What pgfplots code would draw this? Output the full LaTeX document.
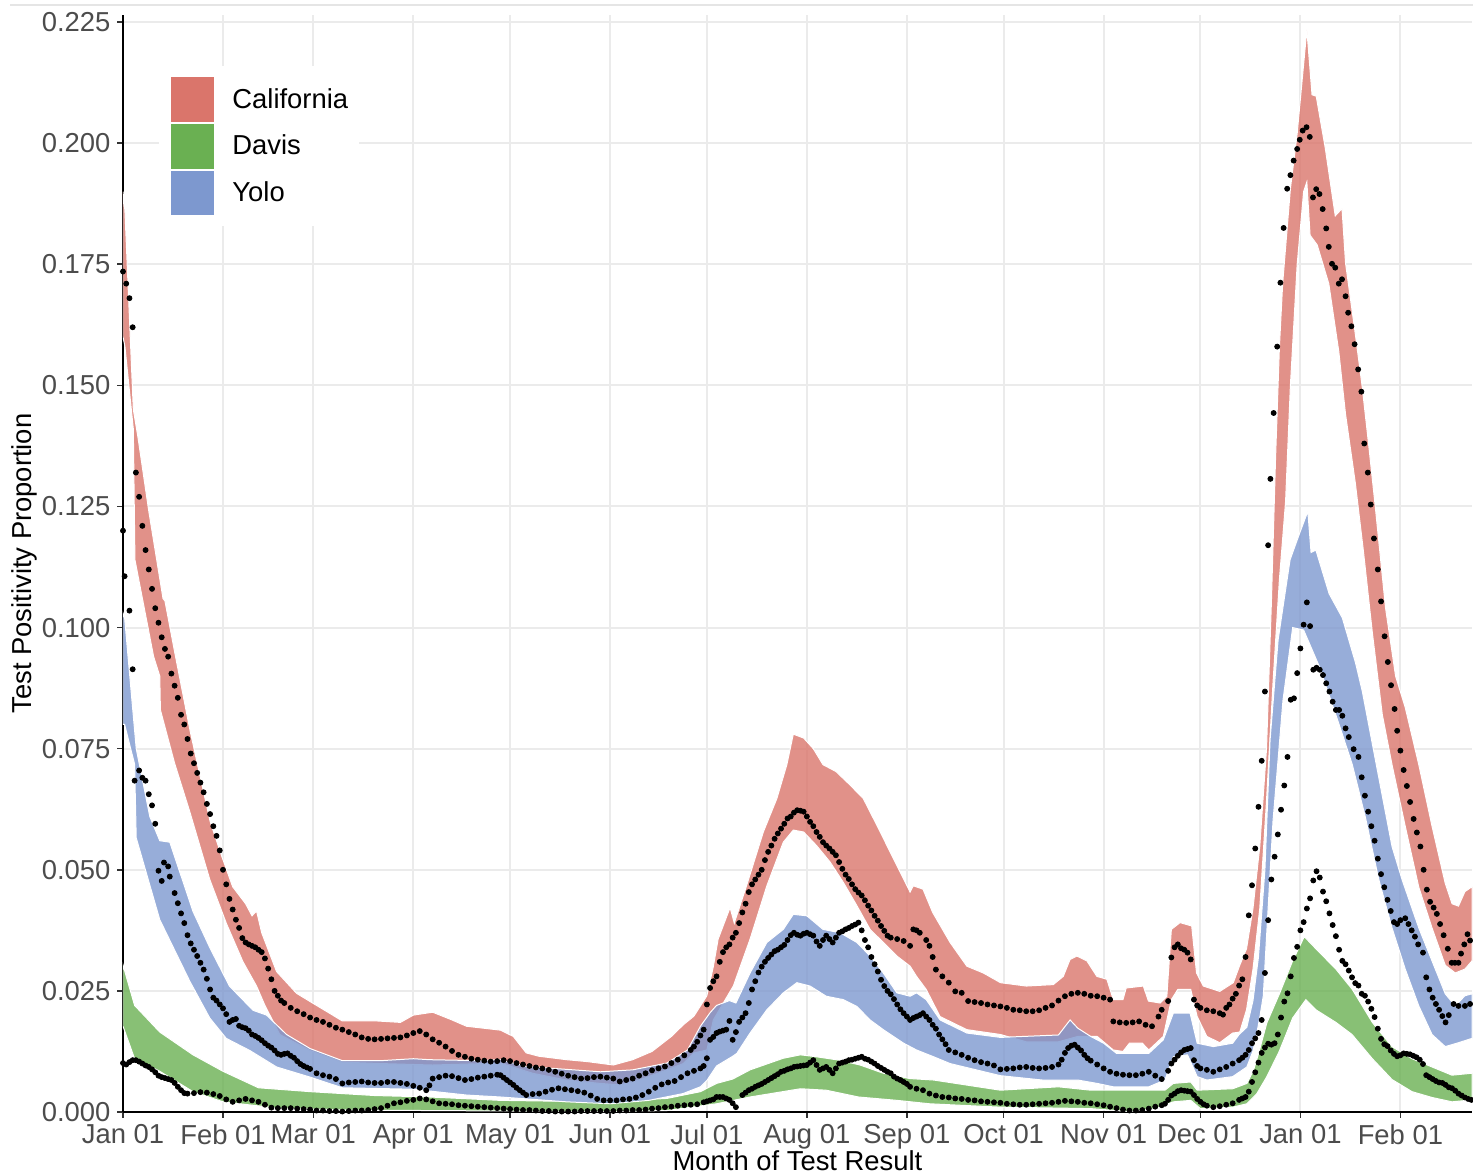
\documentclass[border=0pt]{standalone}
\usepackage{pgfplots}
\pgfplotsset{compat=1.18}
\usepgfplotslibrary{fillbetween}
\usepackage{fontspec}
\setmainfont{Liberation Sans}
\definecolor{calred}{RGB}{218,117,107}
\definecolor{davgreen}{RGB}{106,176,82}
\definecolor{yoloblue}{RGB}{125,152,207}
\definecolor{gridgray}{RGB}{235,235,235}
\newcommand{\fs}{\fontsize{13.7}{16}\selectfont}
\begin{document}
\begin{tikzpicture}
\begin{axis}[
 scale only axis, width=674.5pt, height=548.5pt,
 xmin=0, xmax=418.2, ymin=0, ymax=0.22646,
 axis lines*=left,
 axis line style={line width=1.1pt, black},
 xtick={0,31,59,90,120,151,181,212,243,273,304,334,365,396},
 xticklabels={Jan 01,Feb 01,Mar 01,Apr 01,May 01,Jun 01,Jul 01,Aug 01,Sep 01,Oct 01,Nov 01,Dec 01,Jan 01,Feb 01},
 ytick={0,0.025,0.05,0.075,0.1,0.125,0.15,0.175,0.2,0.225},
 yticklabels={0.000,0.025,0.050,0.075,0.100,0.125,0.150,0.175,0.200,0.225},
 tick align=outside, major tick length=2.75pt,
 tick style={line width=0.8pt, black!80},
 grid=major, major grid style={gridgray, line width=1pt},
 tick label style={font=\fs, text=black!70},
 label style={font=\fs},
 xlabel={Month of Test Result}, ylabel={Test Positivity Proportion},
 xlabel style={at={(axis description cs:0.5,-0.0347)}, anchor=north, inner sep=0pt},
 ylabel style={at={(axis description cs:-0.063,0.5)}, anchor=south, inner sep=0pt},
 legend cell align=left,
 legend style={at={(0.0267,0.9535)}, anchor=north west, draw=none, fill=white,
   inner xsep=5.5pt, inner ysep=5pt, row sep=0pt, font=\fs, nodes={inner sep=0pt},
   /tikz/every odd column/.append style={column sep=8.5pt}},
]
\addlegendimage{legend image code/.code={\fill[calred, draw=white, line width=0.5pt] (0pt,-11.4pt) rectangle (22pt,11.4pt);}}
\addlegendentry{California}
\addlegendimage{legend image code/.code={\fill[davgreen, draw=white, line width=0.5pt] (0pt,-11.4pt) rectangle (22pt,11.4pt);}}
\addlegendentry{Davis}
\addlegendimage{legend image code/.code={\fill[yoloblue, draw=white, line width=0.5pt] (0pt,-11.4pt) rectangle (22pt,11.4pt);}}
\addlegendentry{Yolo}

% California band
\addplot[name path=cu, draw=none, forget plot] coordinates {(0,0.190) (0.6,0.186) (3.2,0.145) (4.7,0.139) (8,0.124) (12.4,0.106) (13,0.1055) (16,0.095) (20.7,0.079) (24,0.069) (27,0.060) (30.5,0.053) (34,0.0465) (38,0.043) (40,0.0405) (41.4,0.0415) (43,0.037) (47.6,0.029) (53.8,0.0245) (60,0.022) (68,0.0188) (78.6,0.0188) (86,0.0185) (90,0.020) (96,0.0206) (102,0.019) (106.5,0.0177) (117,0.0169) (121,0.0156) (125,0.0122) (129,0.0115) (137.5,0.0108) (144,0.0104) (152,0.0097) (158,0.0108) (164,0.0125) (170,0.0156) (173.7,0.018) (177,0.0198) (181,0.024) (183,0.030) (184.5,0.0357) (188.2,0.0422) (189.5,0.039) (193.3,0.0467) (198.5,0.0578) (202.7,0.0647) (205.8,0.0717) (207.8,0.078) (211,0.0772) (214,0.075) (217,0.0717) (221,0.0703) (225.4,0.0675) (229.5,0.0647) (233.7,0.0592) (237.8,0.0537) (242,0.0481) (244,0.0454) (245,0.0467) (248,0.046) (251,0.0412) (256.4,0.035) (261.6,0.0301) (266.7,0.0287) (272,0.0267) (280,0.026) (288.4,0.0263) (291.5,0.028) (293.6,0.0315) (295.7,0.0322) (298.8,0.0312) (301.9,0.028) (305,0.0274) (307,0.0232) (310,0.0232) (311,0.0256) (316.3,0.026) (317.9,0.0229) (321.5,0.0225) (323.6,0.0239) (325,0.0377) (327.7,0.0391) (331.3,0.0384) (332.8,0.0287) (334.9,0.026) (340,0.0249) (344.2,0.0267) (346.2,0.0303) (348.3,0.0337) (350.3,0.042) (352.4,0.0548) (354.5,0.075) (356,0.105) (357.3,0.135) (358.5,0.158) (359.5,0.171) (361.9,0.1906) (364,0.202) (367,0.2234) (368.6,0.210) (369.9,0.2097) (372.7,0.199) (375.8,0.185) (377.9,0.1865) (379,0.1752) (382,0.1607) (384.1,0.150) (386.2,0.1375) (388.2,0.125) (391.4,0.104) (394.5,0.090) (397.5,0.0835) (401.7,0.0717) (405.8,0.059) (409.9,0.0472) (412,0.043) (414,0.0425) (416,0.0455) (418.2,0.0465)};
\addplot[name path=cl, draw=none, forget plot] coordinates {(0,0.160) (0.6,0.158) (3.2,0.141) (3.7,0.114) (9.5,0.094) (11.4,0.090) (11.6,0.083) (16,0.072) (20.7,0.062) (26.9,0.048) (32,0.039) (37.2,0.031) (41.4,0.026) (44,0.022) (48.6,0.016) (58,0.0127) (68,0.0103) (80,0.0100) (96,0.0097) (117,0.0101) (127,0.008) (137.5,0.0066) (148,0.0059) (154,0.0056) (160,0.0066) (168.6,0.0087) (173.7,0.010) (177,0.0122) (181,0.0128) (183,0.019) (189.2,0.026) (194.4,0.0357) (199.6,0.0467) (204.7,0.0557) (207.8,0.0582) (211,0.0578) (215,0.055) (219.2,0.0516) (223.3,0.0474) (227.5,0.0426) (231.6,0.0377) (235.7,0.035) (239.9,0.0322) (244,0.0301) (246,0.028) (249,0.0253) (253.3,0.0197) (261.6,0.017) (272,0.016) (280,0.0145) (290,0.0145) (296,0.0156) (302,0.0156) (307,0.0128) (310,0.0125) (312,0.0142) (316,0.0142) (318,0.0128) (322.5,0.0156) (325,0.0232) (327,0.0253) (331,0.0253) (333,0.0197) (336,0.0156) (340,0.0143) (344,0.0163) (346.2,0.0165) (348.3,0.0211) (350.3,0.0295) (352.4,0.042) (354.4,0.0632) (356.5,0.0885) (358.5,0.110) (360.4,0.126) (361.9,0.150) (364,0.175) (366,0.190) (367,0.192) (368,0.181) (370.2,0.179) (373.8,0.171) (376.9,0.157) (379,0.144) (382,0.130) (384.5,0.116) (387.3,0.099) (390.4,0.082) (393.4,0.0717) (397.5,0.059) (401.7,0.0464) (405.8,0.038) (409.9,0.0303) (413,0.0287) (416,0.0295) (418.2,0.0312)};
\addplot[fill=calred, fill opacity=0.8, draw=white, line width=0.5pt, forget plot] fill between[of=cu and cl];

% Davis band
\addplot[name path=du, draw=none, forget plot] coordinates {(0,0.0304) (1,0.028) (3.6,0.022) (11.4,0.0165) (21.7,0.0118) (31,0.0084) (42,0.005) (58,0.0042) (78,0.0034) (95,0.0031) (117,0.0024) (148,0.0021) (168.6,0.0028) (179,0.0042) (184,0.0059) (189,0.0068) (194.4,0.0087) (204.7,0.0111) (210,0.0118) (215,0.0114) (222,0.0107) (228.5,0.0097) (235.7,0.008) (244,0.0069) (251.3,0.0066) (272,0.0045) (290,0.0052) (300,0.0045) (323,0.0045) (325.6,0.0059) (331,0.0062) (333,0.0045) (344,0.0048) (348.4,0.0059) (350.4,0.0085) (352,0.012) (354.6,0.0184) (358.5,0.0244) (362.6,0.0312) (366.2,0.0362) (369.8,0.0337) (376,0.0295) (381.1,0.0253) (387.3,0.0185) (393.4,0.0135) (399.6,0.011) (405.8,0.0093) (412,0.0076) (418.2,0.008)};
\addplot[name path=dl, draw=none, forget plot] coordinates {(0,0.0177) (3.6,0.011) (11.4,0.0084) (21.7,0.0042) (31,0.0021) (48,0.0008) (70,0.0004) (95,0.0003) (150,0.0001) (168.6,0.0003) (184,0.0017) (194.4,0.0031) (210,0.0048) (218,0.0045) (228,0.0031) (240,0.0024) (250,0.0017) (272,0.001) (300,0.0007) (312,0.0001) (320,0.0007) (325.6,0.0021) (331,0.0024) (334,0.0007) (344,0.001) (348.4,0.0017) (351.5,0.0038) (354.6,0.0073) (358.5,0.0126) (362.6,0.0194) (366.7,0.0232) (369.8,0.0211) (376,0.0185) (381,0.016) (387.3,0.011) (393.4,0.0067) (399.6,0.0042) (405.8,0.003) (412,0.0021) (418.2,0.0025)};
\addplot[fill=davgreen, fill opacity=0.8, draw=white, line width=0.5pt, forget plot] fill between[of=du and dl];

% Yolo band
\addplot[name path=yu, draw=none, forget plot] coordinates {(0,0.103) (0.5,0.102) (4.1,0.075) (8.3,0.061) (11.4,0.056) (14.5,0.0557) (21.7,0.0414) (27,0.0338) (33,0.026) (40.3,0.021) (44.5,0.020) (50.7,0.016) (58,0.0131) (68,0.0106) (80,0.0106) (90,0.011) (95,0.0108) (110,0.0106) (117,0.0108) (125,0.0094) (148,0.0083) (158,0.0087) (168.6,0.0101) (175,0.0128) (179,0.0177) (182,0.0205) (184,0.022) (188,0.023) (190,0.0225) (194.4,0.0287) (199.6,0.035) (204.7,0.0377) (207.8,0.0408) (212,0.0405) (217,0.0377) (222.3,0.037) (227.5,0.035) (231.6,0.0322) (235.7,0.0287) (239.9,0.0246) (244,0.0239) (246,0.0246) (249,0.0232) (253.3,0.019) (261.6,0.0163) (272,0.0154) (290,0.0159) (293.6,0.019) (296,0.0173) (300,0.0156) (304,0.0142) (308,0.0121) (318,0.0121) (322.5,0.0149) (325.6,0.0204) (330.8,0.0204) (333,0.0142) (338,0.0135) (344,0.0142) (346,0.016) (348.4,0.0175) (350.3,0.023) (352,0.032) (354,0.050) (355.6,0.0768) (358.1,0.0975) (361.8,0.114) (364.5,0.119) (367.3,0.124) (368.3,0.1155) (369.8,0.116) (373.9,0.107) (378,0.102) (382.1,0.0927) (384.2,0.0868) (388.3,0.0725) (393.4,0.0548) (396.5,0.048) (401.7,0.038) (405.8,0.0312) (409.9,0.0244) (413,0.0219) (416,0.024) (418.2,0.0244)};
\addplot[name path=yl, draw=none, forget plot] coordinates {(0,0.080) (0.5,0.080) (3.6,0.0718) (4.1,0.0566) (11.4,0.0397) (20.7,0.027) (26.9,0.0194) (32,0.0152) (39.3,0.0127) (47.6,0.0093) (58,0.0072) (68,0.005) (90,0.0047) (106.5,0.0035) (117,0.0031) (137.5,0.0021) (151,0.0017) (163,0.0024) (173.6,0.0038) (179,0.0052) (181,0.0065) (184,0.0095) (189,0.0115) (190.3,0.0121) (194.4,0.0163) (199.6,0.0211) (204.7,0.0246) (208.9,0.0267) (213,0.026) (218,0.0239) (223.3,0.0232) (227.5,0.0218) (231.6,0.019) (235.7,0.017) (242,0.0142) (246,0.0128) (251.3,0.0114) (256.4,0.010) (272,0.0075) (285,0.0066) (296,0.0066) (302,0.0059) (307,0.0052) (318,0.0052) (323,0.0066) (325.6,0.0114) (330,0.0118) (333,0.0073) (336,0.0066) (344,0.0073) (348.4,0.0093) (350.3,0.0126) (351.5,0.0163) (352.4,0.0195) (353.5,0.024) (354.4,0.035) (356.5,0.060) (359.6,0.085) (362.6,0.100) (366,0.0995) (370.9,0.0919) (377,0.080) (381.1,0.0717) (385.2,0.0607) (389.3,0.048) (393.4,0.038) (397.5,0.0295) (401.7,0.0219) (405.8,0.016) (409.9,0.0135) (414,0.0143) (418.2,0.0152)};
\addplot[fill=yoloblue, fill opacity=0.8, draw=white, line width=0.5pt, forget plot] fill between[of=yu and yl];

% California observed
\addplot[only marks, mark=*, mark size=1.25pt, black, forget plot] coordinates {(0,0.1735) (1,0.171) (2,0.168) (3,0.162) (4,0.132) (5,0.127) (6,0.121) (7,0.116) (8,0.112) (9,0.108) (10,0.104) (11,0.101) (12,0.098) (13,0.0956) (14,0.094) (15,0.0905) (16,0.088) (17,0.0855) (18,0.082) (19,0.080) (20,0.077) (21,0.074) (22,0.072) (23,0.070) (24,0.068) (25,0.066) (26,0.0636) (27,0.0615) (28,0.059) (29,0.057) (30,0.054) (31,0.050) (32,0.047) (33,0.044) (34,0.0418) (35,0.0397) (36,0.038) (37,0.0359) (38,0.035) (39,0.0346) (40,0.0343) (41,0.034) (42,0.0335) (43,0.033) (44,0.0317) (45,0.0296) (46,0.0274) (47,0.025) (48,0.024) (49,0.023) (50,0.0225) (52,0.0215) (54,0.0208) (56,0.0202) (58,0.0195) (60,0.019) (62,0.0186) (64,0.018) (66,0.0174) (68,0.017) (70,0.0165) (72,0.016) (74,0.0154) (76,0.0151) (78,0.015) (80,0.0151) (82,0.0152) (84,0.0153) (86,0.0154) (88,0.0158) (90,0.0163) (92,0.0167) (94,0.016) (96,0.015) (98,0.0143) (100,0.0135) (102,0.0126) (104,0.0118) (106,0.0114) (108,0.011) (110,0.0108) (112,0.0106) (114,0.0104) (116,0.0105) (118,0.0107) (120,0.0105) (122,0.0101) (124,0.0098) (126,0.0095) (128,0.0092) (130,0.009) (132,0.0087) (134,0.0083) (136,0.0079) (138,0.0075) (140,0.0072) (142,0.0069) (144,0.007) (146,0.0072) (148,0.0073) (150,0.0071) (152,0.0069) (154,0.0063) (156,0.0066) (158,0.0069) (160,0.0075) (162,0.008) (164,0.0086) (166,0.009) (168,0.0094) (170,0.0101) (172,0.0108) (174,0.0117) (176,0.0128) (177,0.0135) (178,0.0145) (179,0.0158) (180,0.017) (181,0.0222) (182,0.0256) (183,0.027) (184,0.028) (185,0.031) (186,0.033) (187,0.034) (188,0.0346) (189,0.036) (190,0.037) (191,0.039) (192,0.0412) (193,0.043) (194,0.0454) (195,0.047) (196,0.048) (197,0.049) (198,0.050) (199,0.052) (200,0.0537) (201,0.055) (202,0.0564) (203,0.0575) (204,0.0585) (205,0.0595) (206,0.0606) (207,0.061) (208,0.0618) (209,0.0623) (210,0.0622) (211,0.062) (212,0.061) (213,0.0599) (214,0.059) (215,0.0578) (216,0.0568) (217,0.0557) (218,0.055) (219,0.0544) (220,0.0537) (221,0.053) (222,0.0516) (223,0.0502) (224,0.049) (225,0.0481) (226,0.047) (227,0.046) (228,0.0453) (229,0.0447) (230,0.0437) (231,0.0426) (232,0.0416) (233,0.0405) (234,0.0395) (235,0.0384) (236,0.0374) (237,0.0364) (238,0.036) (240,0.0357) (242,0.0353) (244,0.0343) (245,0.0377) (246,0.0375) (247,0.037) (249,0.0355) (250,0.0343) (251,0.032) (252,0.0294) (254,0.028) (256,0.0267) (258,0.0249) (260,0.0246) (262,0.0229) (264,0.0227) (266,0.0225) (268,0.0222) (270,0.022) (272,0.0218) (274,0.0215) (276,0.0211) (278,0.021) (280,0.0208) (282,0.0208) (284,0.021) (286,0.0215) (288,0.022) (290,0.023) (292,0.0239) (294,0.0244) (296,0.0246) (298,0.0244) (300,0.024) (302,0.0239) (304,0.0236) (306,0.0232) (307,0.0187) (309,0.0185) (311,0.0184) (313,0.0185) (315,0.0187) (317,0.018) (319,0.0177) (321,0.0197) (322,0.0211) (324,0.0229) (325,0.0319) (326,0.034) (327,0.0346) (328,0.0338) (329,0.0335) (330,0.0329) (331,0.0315) (332,0.0232) (333,0.022) (334,0.0215) (336,0.021) (338,0.0208) (340,0.0204) (341,0.0201) (342,0.0215) (343,0.0222) (344,0.0234) (345,0.0244) (346,0.0261) (347,0.0274) (348,0.032) (349,0.0406) (350,0.0468) (351,0.0544) (352,0.063) (353,0.0725) (354,0.0868) (355,0.117) (355.7,0.1307) (356.7,0.1443) (357.8,0.158) (358.8,0.1712) (359.8,0.1825) (360.9,0.1906) (361.9,0.1934) (362.9,0.1964) (364,0.1988) (364.8,0.2007) (365.7,0.2026) (366.9,0.2033) (367.9,0.2013) (368.9,0.1888) (369.9,0.1905) (370.9,0.1895) (371.9,0.1864) (373,0.1824) (373.8,0.1786) (374.8,0.1751) (375.8,0.1743) (376.9,0.171) (377.9,0.1719) (379,0.1684) (379.8,0.165) (380.8,0.1622) (381.8,0.1585) (382.9,0.1533) (383.9,0.1487) (384.8,0.138) (385.9,0.132) (386.8,0.1254) (387.8,0.1184) (389,0.112) (390,0.1054) (391.1,0.0982) (392.1,0.0929) (393.1,0.0881) (394.2,0.0832) (395,0.0787) (396,0.0746) (397,0.0706) (398,0.0673) (399,0.064) (400.1,0.0605) (401.1,0.0577) (402.2,0.0548) (403.2,0.050) (404.2,0.0459) (405.2,0.0434) (406.3,0.0422) (407.3,0.0409) (408.3,0.0388) (409.4,0.0365) (410.7,0.0337) (411.9,0.0308) (412.9,0.0308) (414,0.0308) (414.8,0.0327) (415.8,0.0346) (416.8,0.0367) (417.6,0.0354)};

% Davis observed
\addplot[only marks, mark=*, mark size=1.25pt, black, forget plot] coordinates {(0,0.0101) (1,0.0098) (2,0.0103) (3,0.0107) (4,0.0107) (5,0.0104) (6,0.010) (7,0.0096) (8,0.0093) (9,0.0088) (10,0.0082) (11,0.0075) (12,0.0072) (13,0.007) (14,0.0068) (15,0.0066) (16,0.006) (17,0.0052) (18,0.0045) (19,0.0039) (20,0.0038) (22,0.0039) (24,0.0041) (26,0.004) (28,0.0037) (30,0.0033) (32,0.0026) (34,0.0021) (36,0.0024) (38,0.0027) (40,0.0024) (42,0.0021) (44,0.0015) (46,0.0009) (48,0.0008) (50,0.0008) (52,0.0008) (54,0.0007) (56,0.0006) (58,0.0005) (60,0.0003) (62,0.0003) (64,0.0002) (66,0.0002) (68,0.0001) (70,0.0002) (72,0.0003) (74,0.0003) (76,0.0004) (78,0.0006) (80,0.0008) (82,0.0013) (84,0.0018) (86,0.002) (88,0.0023) (90,0.0025) (92,0.0028) (94,0.0026) (96,0.0022) (98,0.0018) (100,0.0017) (102,0.0016) (104,0.0014) (106,0.0013) (108,0.0012) (110,0.0011) (112,0.001) (114,0.0009) (116,0.0008) (118,0.0007) (120,0.0006) (122,0.0005) (124,0.0004) (126,0.0004) (128,0.0003) (130,0.0002) (132,0.0002) (134,0.0001) (136,0.0001) (138,0.0001) (140,0.0001) (142,0.0002) (144,0.0002) (146,0.0002) (148,0.0002) (150,0.0002) (152,0.0002) (154,0.0003) (156,0.0003) (158,0.0004) (160,0.0004) (162,0.0005) (164,0.0007) (166,0.0008) (168,0.001) (170,0.0011) (172,0.0013) (174,0.0014) (176,0.0015) (178,0.0016) (180,0.002) (181,0.0022) (182,0.0024) (183,0.0026) (184,0.0031) (185,0.0031) (186,0.0031) (187,0.0028) (188,0.0025) (189,0.0018) (190,0.001) (192,0.0035) (193,0.004) (194,0.0045) (195,0.0048) (196,0.0052) (197,0.0055) (198,0.0058) (199,0.0062) (200,0.0066) (201,0.007) (202,0.0074) (203,0.0078) (204,0.0083) (205,0.0085) (206,0.0088) (207,0.009) (208,0.0093) (209,0.0094) (210,0.0095) (211,0.0096) (212,0.0097) (213,0.0102) (214,0.0107) (215,0.0097) (216,0.0087) (217,0.009) (218,0.0093) (219,0.0087) (220,0.008) (221,0.009) (222,0.010) (223,0.0102) (224,0.0104) (225,0.0107) (226,0.0108) (227,0.011) (228,0.0112) (229,0.0114) (230,0.011) (231,0.0108) (232,0.0104) (233,0.010) (234,0.0095) (235,0.0091) (236,0.0087) (237,0.0083) (238,0.008) (239,0.0073) (240,0.0069) (241,0.0066) (242,0.0062) (243,0.0058) (244,0.0052) (246,0.0048) (248,0.0045) (250,0.0038) (252,0.0034) (254,0.0031) (256,0.003) (258,0.0028) (260,0.0027) (262,0.0025) (264,0.0024) (266,0.0022) (268,0.0021) (270,0.002) (272,0.0019) (274,0.0017) (276,0.0016) (278,0.0015) (280,0.0015) (282,0.0016) (284,0.0017) (286,0.0018) (288,0.0019) (290,0.0021) (292,0.0023) (294,0.0022) (296,0.0021) (298,0.0019) (300,0.0018) (302,0.0016) (304,0.0014) (306,0.0011) (308,0.0008) (310,0.0005) (312,0.0003) (314,0.0003) (316,0.0004) (318,0.0007) (320,0.0011) (322,0.0014) (323,0.0017) (324,0.0025) (325,0.0034) (326,0.0038) (327,0.0043) (328,0.0045) (329,0.0044) (330,0.0043) (331,0.0042) (332,0.0035) (333,0.0027) (334,0.0021) (335,0.0016) (336,0.0013) (338,0.001) (340,0.0012) (342,0.0015) (344,0.0018) (346,0.0025) (347,0.0028) (348,0.0031) (349,0.0042) (350,0.0062) (351,0.0082) (352,0.0102) (353,0.0122) (354,0.0133) (355,0.0141) (356,0.0139) (357,0.0142) (358,0.016) (359,0.0195) (360,0.0228) (361,0.0245) (362,0.028) (363,0.0318) (364,0.0341) (365,0.0375) (366,0.0392) (367,0.042) (368,0.0441) (369,0.0478) (370,0.0497) (371,0.0484) (372,0.0455) (373,0.0435) (374,0.041) (375,0.0386) (376,0.0363) (377,0.0335) (378,0.0312) (379,0.0305) (380,0.0292) (381,0.0278) (382,0.0266) (383,0.0261) (384,0.0244) (385,0.024) (386,0.0228) (387,0.0213) (388,0.0196) (389,0.0172) (390,0.0151) (391,0.014) (392,0.0136) (393,0.0127) (394,0.012) (395,0.0115) (396,0.0117) (397,0.0121) (398,0.012) (399,0.0119) (400,0.0116) (401,0.0113) (402,0.0108) (403,0.0099) (404,0.0076) (405,0.0072) (406,0.0068) (407,0.0064) (408,0.0061) (409,0.006) (410,0.0056) (411,0.0051) (412,0.0049) (413,0.0044) (414,0.0038) (415,0.0034) (416,0.003) (417,0.0027) (418,0.0025)};

% Yolo observed
\addplot[only marks, mark=*, mark size=1.25pt, black, forget plot] coordinates {(0,0.12) (0.5,0.1106) (2,0.1035) (3,0.0914) (3.6,0.0684) (5,0.0705) (6,0.069) (7,0.0684) (8,0.0656) (9,0.0633) (10,0.0595) (11,0.0498) (12,0.0477) (12.7,0.0515) (14,0.0507) (14.5,0.0486) (16,0.0452) (17,0.0431) (18,0.041) (19,0.039) (20,0.0365) (21,0.0348) (22,0.0335) (23,0.0322) (24,0.0308) (25,0.0294) (26,0.0275) (27,0.0253) (28,0.0236) (29,0.023) (30,0.0222) (31,0.0214) (32,0.0202) (33,0.0186) (34,0.019) (35,0.0192) (36,0.0178) (37,0.0175) (38,0.0173) (39,0.0168) (40,0.016) (41,0.0157) (42,0.0153) (43,0.0148) (44,0.0142) (45,0.0137) (46,0.0133) (47,0.0127) (48,0.012) (49,0.0118) (50,0.012) (51,0.0121) (52,0.0116) (53,0.0112) (54,0.0105) (55,0.0099) (56,0.0095) (57,0.0092) (58,0.0089) (60,0.008) (62,0.0076) (64,0.0073) (66,0.0068) (68,0.0059) (70,0.0061) (72,0.0062) (74,0.0063) (76,0.0061) (78,0.006) (80,0.006) (82,0.0062) (84,0.0062) (86,0.006) (88,0.0058) (90,0.0054) (92,0.005) (94,0.0045) (95,0.0055) (96,0.0069) (98,0.0072) (100,0.0075) (102,0.0074) (104,0.007) (106,0.0066) (108,0.0068) (110,0.0071) (112,0.0073) (114,0.0075) (116,0.0077) (117,0.0076) (118,0.0071) (119,0.0066) (120,0.0061) (121,0.0056) (122,0.005) (123,0.0045) (124,0.004) (125,0.0035) (127,0.0037) (129,0.0038) (131,0.0042) (133,0.0046) (135,0.0049) (137,0.0047) (139,0.0045) (141,0.0043) (143,0.004) (145,0.0034) (147,0.0027) (149,0.0024) (151,0.0024) (153,0.0024) (155,0.0026) (157,0.0027) (159,0.003) (161,0.0035) (163,0.0042) (165,0.005) (167,0.0057) (169,0.0061) (171,0.0064) (173,0.0072) (175,0.008) (177,0.0085) (179,0.009) (180,0.0095) (181,0.0111) (182,0.0149) (183,0.0155) (184,0.0163) (185,0.0166) (186,0.0168) (187,0.017) (188,0.0188) (189,0.0149) (190,0.0165) (191,0.0186) (192,0.0195) (193,0.0204) (194,0.0225) (195,0.0253) (196,0.027) (197,0.0288) (198,0.030) (199,0.031) (200,0.0318) (201,0.0325) (202,0.0332) (203,0.0335) (204,0.034) (205,0.0345) (206,0.0355) (207,0.0365) (208,0.037) (209,0.0366) (210,0.0364) (211,0.0368) (212,0.037) (213,0.0367) (214,0.0364) (215,0.0352) (216,0.0343) (217,0.0355) (218,0.0364) (219,0.0357) (220,0.035) (221,0.036) (222,0.037) (223,0.0373) (224,0.0377) (225,0.038) (226,0.0384) (227,0.0387) (228,0.0391) (229,0.0375) (230,0.0355) (231,0.034) (232,0.032) (233,0.0305) (234,0.029) (235,0.0273) (236,0.026) (237,0.025) (238,0.0243) (239,0.0233) (240,0.0222) (241,0.0212) (242,0.0204) (243,0.0197) (244,0.019) (245,0.0194) (246,0.0197) (247,0.02) (248,0.0204) (249,0.0197) (250,0.019) (251,0.018) (252,0.0172) (253,0.016) (254,0.015) (255,0.014) (256,0.0128) (258,0.0123) (260,0.0118) (262,0.0112) (264,0.0107) (266,0.0103) (268,0.010) (270,0.0096) (272,0.0088) (274,0.0089) (276,0.009) (278,0.0092) (280,0.0093) (282,0.0091) (284,0.009) (286,0.0091) (288,0.0093) (290,0.0098) (291,0.0108) (292,0.0122) (293,0.0132) (294,0.0137) (295,0.0139) (296,0.0133) (297,0.0127) (298,0.0118) (299,0.0111) (300,0.0106) (302,0.0098) (304,0.009) (306,0.0083) (308,0.0079) (310,0.0077) (312,0.0076) (314,0.0076) (316,0.0079) (318,0.0083) (320,0.0075) (322,0.0068) (324,0.0085) (325,0.010) (326,0.0108) (327,0.0116) (328,0.0123) (329,0.0128) (330,0.013) (331,0.0132) (332,0.0107) (333,0.0095) (334,0.009) (336,0.0087) (338,0.0083) (340,0.0088) (342,0.0093) (344,0.010) (346,0.0107) (347,0.0112) (348,0.0118) (349,0.0128) (350,0.0142) (351,0.0152) (352,0.0163) (353,0.019) (354,0.0287) (355,0.0396) (356,0.048) (357,0.0527) (358,0.0573) (359,0.0624) (360,0.0674) (361,0.0733) (362,0.0851) (363,0.0854) (364,0.0906) (365,0.0957) (366,0.1006) (367,0.1052) (368,0.1003) (369,0.0913) (370,0.0917) (371,0.0913) (372,0.0902) (373,0.0885) (374,0.0868) (375,0.0847) (376,0.083) (377,0.083) (378,0.0818) (379,0.0792) (380,0.0774) (381.5,0.0749) (383,0.0733) (384,0.0691) (385,0.0653) (386,0.062) (387,0.059) (388,0.056) (389,0.0523) (390,0.0491) (391,0.0464) (392,0.0438) (393,0.0415) (394,0.0392) (395,0.0388) (396,0.0396) (397.5,0.040) (398.5,0.0388) (399.5,0.0375) (400.5,0.0362) (401.5,0.0346) (403,0.0329) (404,0.0278) (405,0.0253) (406,0.0236) (407,0.0223) (408,0.0211) (409,0.0198) (410,0.0185) (411,0.020) (412.5,0.0223) (414,0.0219) (416,0.0219) (417.6,0.0223)};
\end{axis}
\draw[black!10, line width=0.6pt] ([xshift=-56.5pt,yshift=5pt]current axis.north west) -- ([xshift=0.5pt,yshift=5pt]current axis.north east);
\pgfresetboundingbox
\path[use as bounding box] ([xshift=-61.5pt,yshift=-31pt]current axis.south west) rectangle ([xshift=0.5pt,yshift=7.5pt]current axis.north east);
\end{tikzpicture}
\end{document}
